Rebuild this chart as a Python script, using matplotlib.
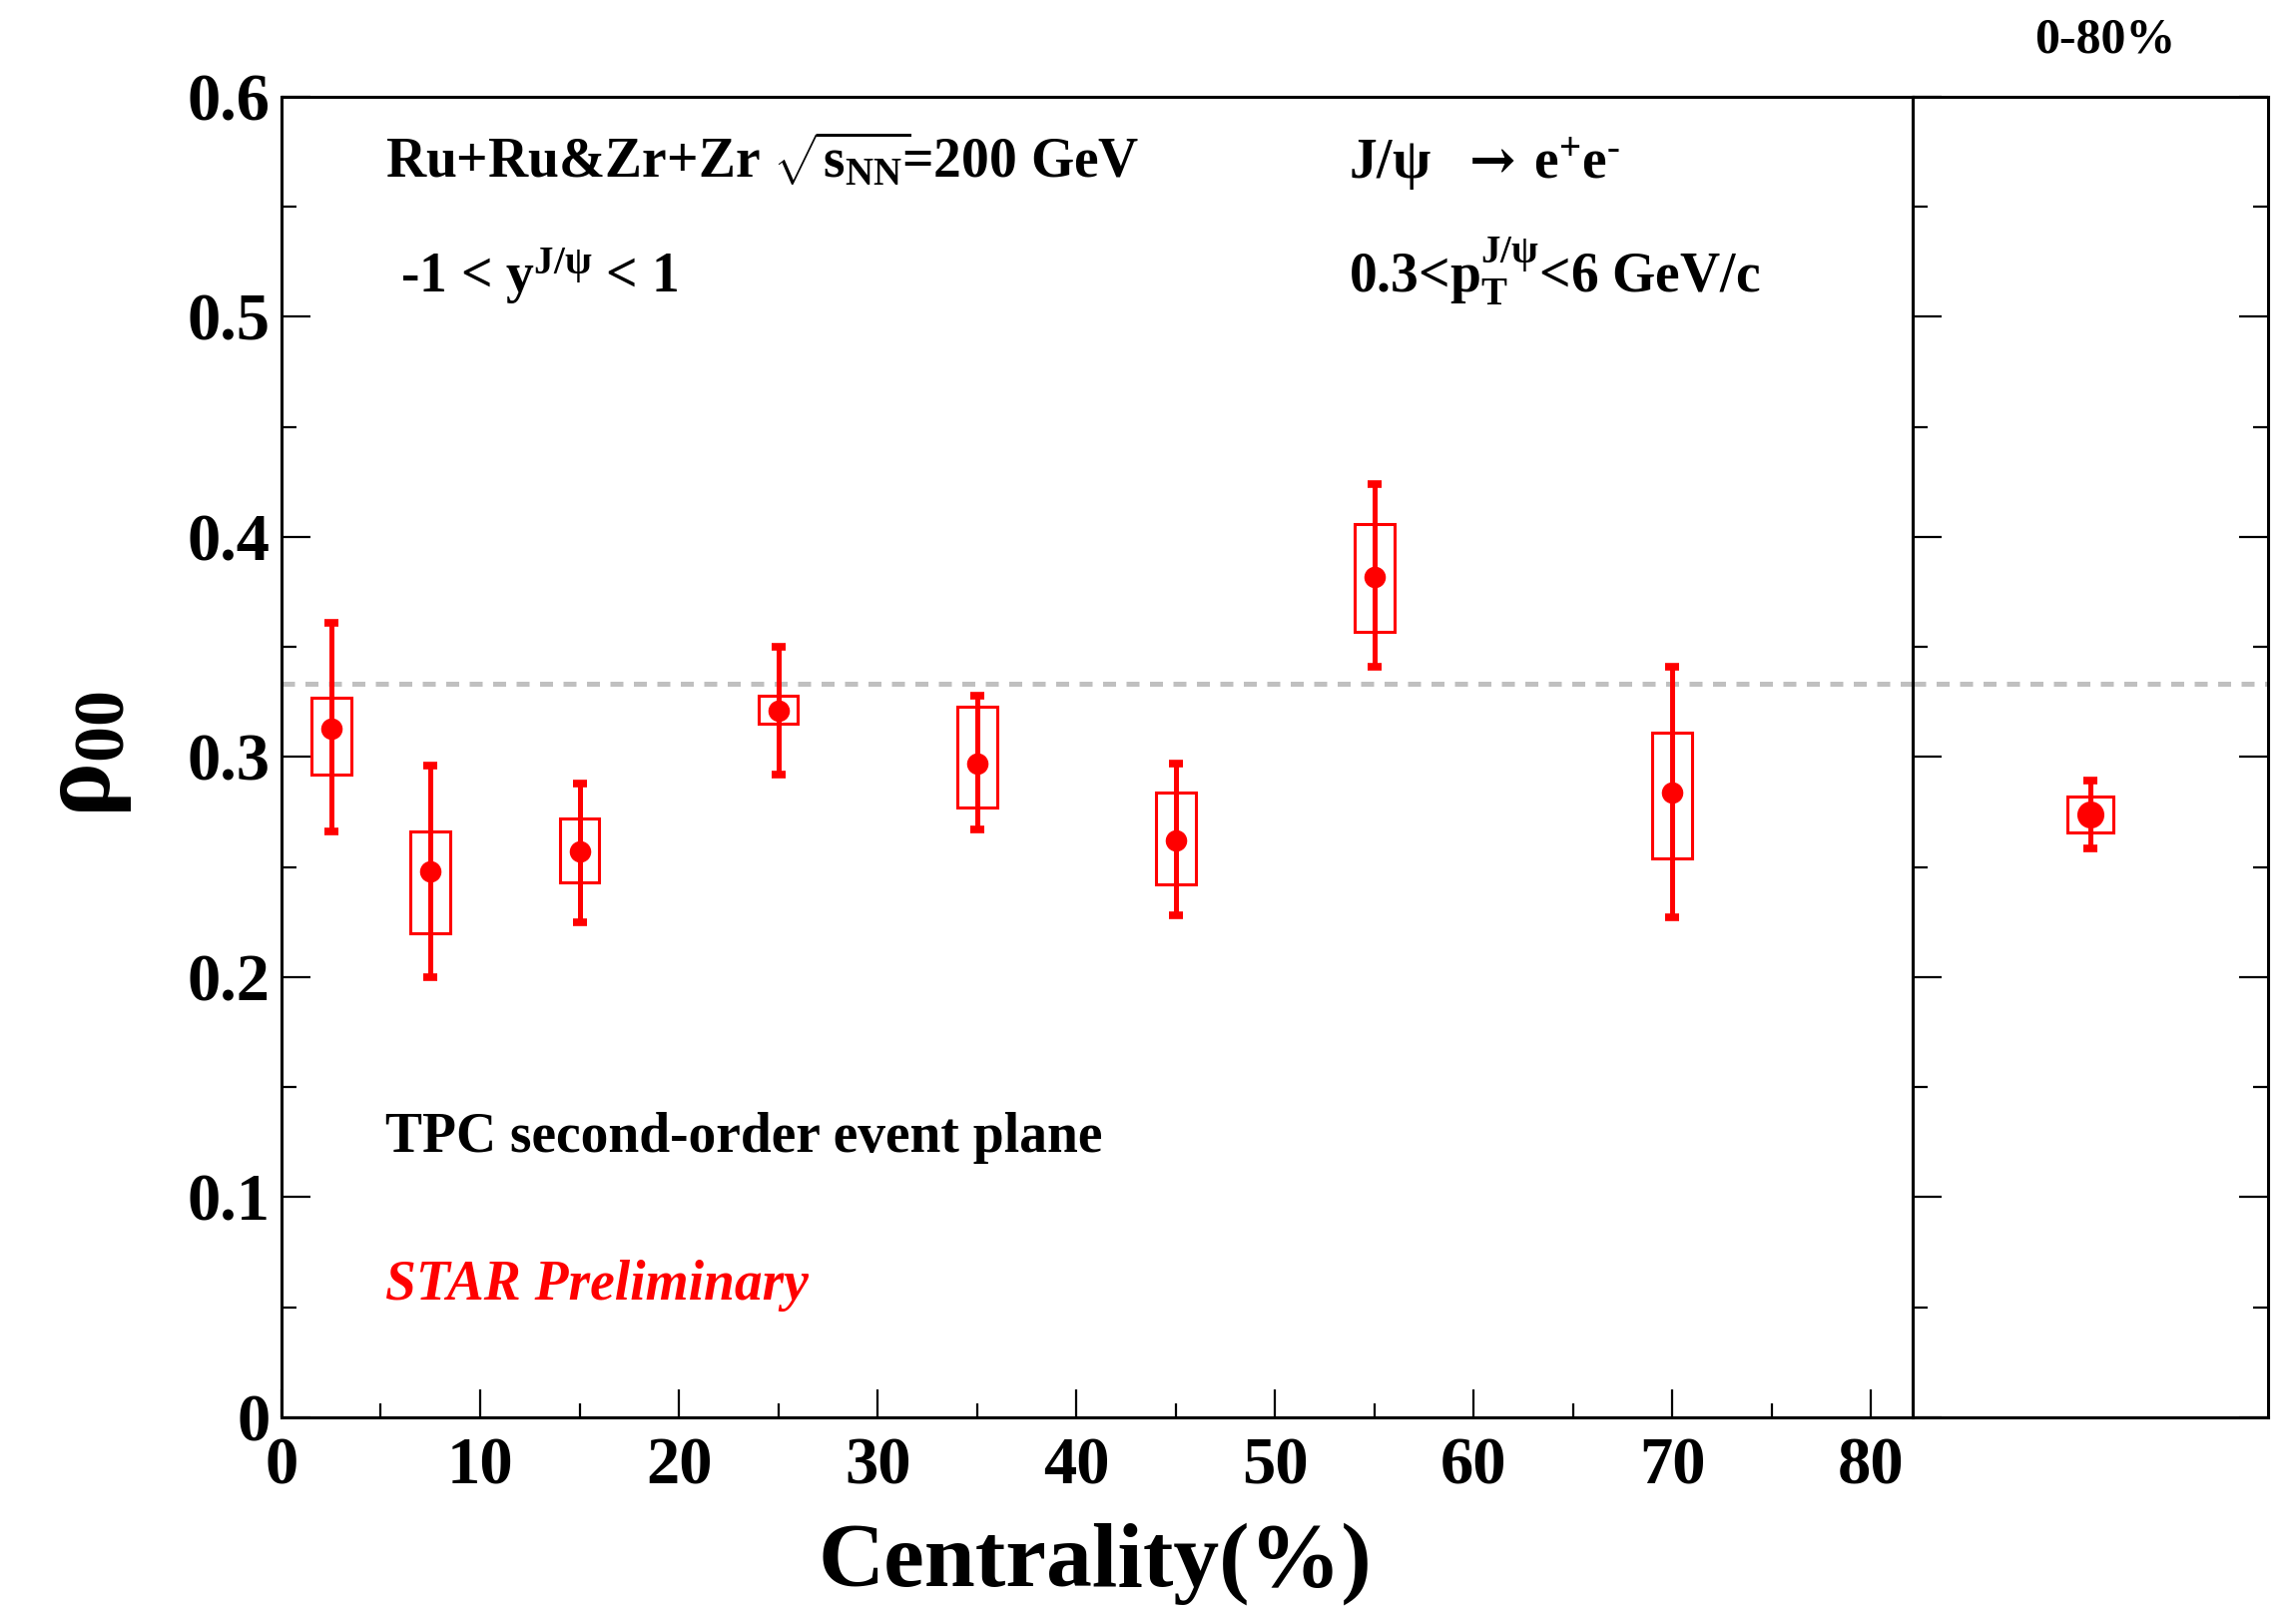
import matplotlib
matplotlib.use('Agg')
import matplotlib.pyplot as plt
import numpy as np

# ---- data ----
cent = [2.5, 7.5, 15, 25, 35, 45, 55, 70]
rho00 = [0.313, 0.248, 0.257, 0.321, 0.297, 0.262, 0.382, 0.284]
stat_lo = [0.266, 0.200, 0.225, 0.292, 0.267, 0.228, 0.341, 0.227]
stat_hi = [0.361, 0.296, 0.288, 0.350, 0.328, 0.297, 0.424, 0.341]
sys_lo = [0.292, 0.220, 0.243, 0.315, 0.277, 0.242, 0.357, 0.254]
sys_hi = [0.327, 0.266, 0.272, 0.328, 0.323, 0.284, 0.406, 0.311]

# integrated 0-80%
int_x = [0.5]
int_rho00 = [0.274]
int_stat_lo = [0.2586]
int_stat_hi = [0.2895]
int_sys_lo = [0.2656]
int_sys_hi = [0.2821]

unpolarized = 1.0 / 3.0
xticks = [0, 10, 20, 30, 40, 50, 60, 70, 80]
yticks = [0, 0.1, 0.2, 0.3, 0.4, 0.5, 0.6]
ytick_labels = ['0', '0.1', '0.2', '0.3', '0.4', '0.5', '0.6']

# ---- style ----
plt.rcParams['font.family'] = ['Liberation Serif', 'DejaVu Serif']
plt.rcParams['font.weight'] = 'bold'
plt.rcParams['mathtext.fontset'] = 'custom'
plt.rcParams['mathtext.rm'] = 'Liberation Serif:bold'
plt.rcParams['mathtext.it'] = 'Liberation Serif:italic:bold'
plt.rcParams['mathtext.bf'] = 'Liberation Serif:bold'
plt.rcParams['mathtext.default'] = 'rm'

red = '#ff0000'

fig = plt.figure(figsize=(23, 16.14), dpi=100)
ax = fig.add_axes([0.1226, 0.1202, 0.7103, 0.8198])
ax2 = fig.add_axes([0.8329, 0.1202, 0.1549, 0.8198])


def draw(a, x, y, slo, shi, elo, ehi, box_w, ms):
    x = np.asarray(x)
    y = np.asarray(y)
    slo = np.asarray(slo)
    shi = np.asarray(shi)
    a.bar(x, shi - slo, bottom=slo, width=box_w, fill=False,
          edgecolor=red, linewidth=2.2, zorder=3)
    a.errorbar(x, y, yerr=[y - np.asarray(elo), np.asarray(ehi) - y],
               fmt='o', color=red, ms=ms, elinewidth=3.6,
               capsize=5, capthick=5.5, zorder=4)
    a.axhline(unpolarized, color='#c0c0c0', lw=3.6,
              linestyle=(0, (2.6, 2.1)), zorder=1)


draw(ax, cent, rho00, sys_lo, sys_hi, stat_lo, stat_hi, 2.0, 14.5)
draw(ax2, int_x, int_rho00, int_sys_lo, int_sys_hi,
     int_stat_lo, int_stat_hi, 0.128, 18.5)

# ---- left panel axes ----
ax.set_xlim(0, 82.08)
ax.set_ylim(0, 0.6)
ax.set_xticks(xticks)
ax.set_xticks(np.arange(5, 80, 10), minor=True)
ax.set_yticks(yticks)
ax.set_yticklabels(ytick_labels)
ax.set_yticks(np.arange(0.05, 0.6, 0.1), minor=True)
ax.tick_params(axis='both', which='both', direction='in', width=1.6,
               top=False, right=False, labelsize=48)
ax.tick_params(axis='y', which='major', length=21, pad=8)
ax.tick_params(axis='y', which='minor', length=11)
ax.tick_params(axis='x', which='major', length=20, pad=14)
ax.tick_params(axis='x', which='minor', length=10)
for s in ax.spines.values():
    s.set_linewidth(2.2)

# ---- right panel axes ----
ax2.set_xlim(0, 1)
ax2.set_ylim(0, 0.6)
ax2.set_xticks([])
ax2.set_yticks(yticks)
ax2.set_yticks(np.arange(0.05, 0.6, 0.1), minor=True)
ax2.tick_params(axis='y', which='both', direction='in', width=1.6,
                left=True, right=True, labelleft=False)
ax2.tick_params(axis='y', which='major', length=21)
ax2.tick_params(axis='y', which='minor', length=11)
for s in ax2.spines.values():
    s.set_linewidth(2.2)

# ---- annotations ----
ax.text(5.24, 0.563, r'Ru+Ru&Zr+Zr $\sqrt{s_{NN}}\!$=200 GeV', fontsize=40,
        va='baseline')
ax.text(5.97, 0.511, r'-1 < $y^{J/\psi}$ < 1', fontsize=40, va='baseline')
ax.text(53.7, 0.563, r'J/$\psi$', fontsize=40, va='baseline')
ax.text(59.8, 0.563, '\u2192', fontsize=40, va='baseline',
        family='DejaVu Serif')
ax.text(63.0, 0.563, 'e$^{+}$e$^{\u2010}$', fontsize=40, va='baseline')
ax.text(53.7, 0.511, r'0.3<$p_{T}^{J/\psi}$<6 GeV/c', fontsize=40,
        va='baseline')
ax.text(5.24, 0.1204, 'TPC second-order event plane', fontsize=40,
        va='baseline')
ax.text(5.24, 0.0533, 'STAR Preliminary', fontsize=40, color=red,
        style='italic', va='baseline')

fig.text(0.917, 0.9746, '0-80%', fontsize=36, ha='center', va='center')
fig.text(0.477, 0.0294, 'Centrality(%)', fontsize=66, ha='center',
         va='center')
fig.text(0.038, 0.532, r'$\rho_{00}$', fontsize=74, rotation=90,
         ha='center', va='center')

fig.savefig('out.png', dpi=100)
